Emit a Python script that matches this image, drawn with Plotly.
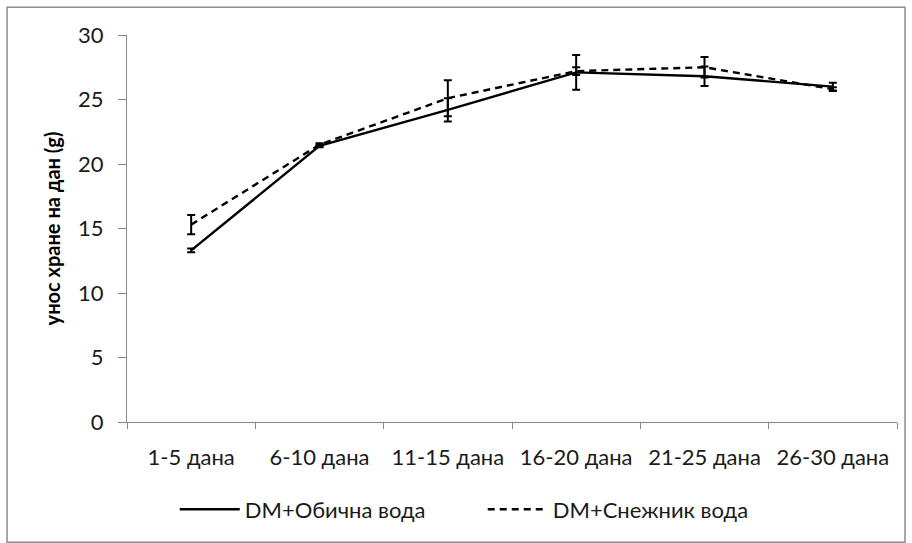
import plotly.graph_objects as go

# Food intake per day (g) over five-day periods
periods = ["1-5 дана", "6-10 дана", "11-15 дана", "16-20 дана", "21-25 дана", "26-30 дана"]

regular_name = "DM+Обична вода"
regular_mean = [13.3, 21.4, 24.2, 27.1, 26.8, 26.0]
regular_err = [0.15, 0.1, 0.9, 1.35, 0.75, 0.3]

snow_name = "DM+Снежник вода"
snow_mean = [15.3, 21.5, 25.1, 27.2, 27.5, 25.8]
snow_err = [0.75, 0.1, 1.4, 0.3, 0.8, 0.15]

y_ticks = [0, 5, 10, 15, 20, 25, 30]
y_title = "унос хране на дан (g)"

FONT = "Lato"
AXIS_GREY = "#868686"
TEXT = "#1a1a1a"

fig = go.Figure()

fig.add_trace(go.Scatter(
    x=periods, y=regular_mean, name=regular_name, mode="lines",
    line=dict(color="black", width=2.4),
    error_y=dict(type="data", array=regular_err, visible=True,
                 color="black", thickness=2, width=4),
))
fig.add_trace(go.Scatter(
    x=periods, y=snow_mean, name=snow_name, mode="lines",
    line=dict(color="black", width=2.4, dash="7px,5px"),
    error_y=dict(type="data", array=snow_err, visible=True,
                 color="black", thickness=2, width=4),
))

fig.update_layout(
    width=912, height=543,
    margin=dict(l=127, r=15, t=35, b=119),
    paper_bgcolor="white", plot_bgcolor="white",
    font=dict(family=FONT, size=22, color=TEXT),
    showlegend=True,
    legend=dict(orientation="h", x=0.062, xanchor="left",
                y=-0.226, yanchor="middle",
                font=dict(family=FONT, size=22, color=TEXT),
                itemwidth=60, entrywidth=233, entrywidthmode="pixels"),
    shapes=[dict(type="rect", xref="paper", yref="paper",
                 x0=-0.1558, x1=1.0104, y0=-0.311, y1=1.072,
                 line=dict(color="#8c8c8c", width=1.5), layer="below")],
)

fig.update_xaxes(
    type="category", range=[-0.5, 5.5], automargin=False,
    tickson="boundaries", ticks="outside", ticklen=6, tickcolor=AXIS_GREY,
    showline=True, linecolor=AXIS_GREY, linewidth=1,
    showgrid=False, zeroline=False,
    tickfont=dict(family=FONT, size=22, color=TEXT),
    ticklabelstandoff=16,
)
fig.update_yaxes(
    range=[0, 30], tickvals=y_ticks, automargin=False,
    ticks="outside", ticklen=8, tickcolor=AXIS_GREY,
    showline=True, linecolor=AXIS_GREY, linewidth=1,
    showgrid=False, zeroline=False,
    tickfont=dict(family=FONT, size=22, color=TEXT),
    ticklabelstandoff=10,
    title=dict(text="<b>" + y_title + "</b>", font=dict(family=FONT, size=20, color="black"),
               standoff=12),
)

fig.write_html("out.html")
